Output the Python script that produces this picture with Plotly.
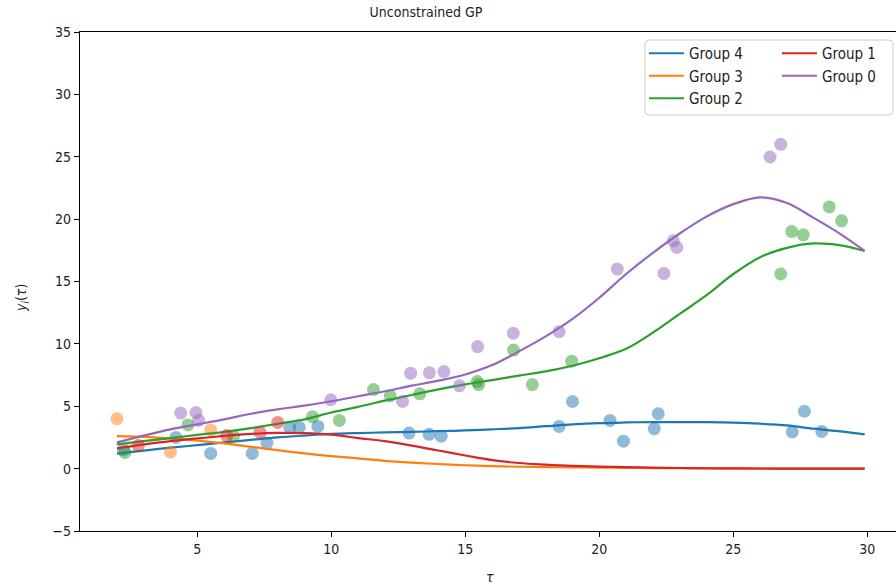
import plotly.graph_objects as go

# ---- fitted GP mean curves (tau grid and per-group means) ----
tau_grid = [2, 3, 4, 5, 6, 7, 8, 9, 10, 11, 12, 13, 14, 15, 16, 17, 18, 19,
            20, 21, 22, 23, 24, 25, 26, 27, 28, 29, 29.9]

mean_g4 = [1.2, 1.45, 1.68, 1.88, 2.1, 2.3, 2.5, 2.65, 2.78, 2.85, 2.9, 2.95, 3.0, 3.06,
           3.15, 3.25, 3.4, 3.55, 3.65, 3.7, 3.73, 3.73, 3.72, 3.68, 3.6, 3.46, 3.2, 2.98, 2.75]
mean_g3 = [2.6, 2.55, 2.42, 2.25, 2.02, 1.75, 1.48, 1.22, 1.0, 0.82, 0.62, 0.48, 0.37, 0.27,
           0.2, 0.15, 0.12, 0.1, 0.08, 0.06, 0.04, 0.03, 0.02, 0.01, 0.0, 0.0, 0.0, 0.0, 0.0]
mean_g2 = [1.95, 2.2, 2.45, 2.7, 2.95, 3.25, 3.6, 3.95, 4.5, 4.95, 5.45, 5.9, 6.35, 6.75,
           7.1, 7.45, 7.8, 8.25, 8.85, 9.6, 10.9, 12.4, 13.9, 15.6, 16.95, 17.7, 18.05, 17.9, 17.45]
mean_g1 = [1.62, 1.95, 2.2, 2.42, 2.62, 2.78, 2.86, 2.84, 2.72, 2.45, 2.2, 1.85, 1.45, 1.05,
           0.68, 0.45, 0.32, 0.22, 0.16, 0.12, 0.08, 0.05, 0.03, 0.02, 0.01, 0.0, 0.0, 0.0, 0.0]
mean_g0 = [2.1, 2.65, 3.15, 3.55, 3.95, 4.4, 4.75, 5.05, 5.4, 5.8, 6.2, 6.65, 7.05, 7.55,
           8.3, 9.4, 10.6, 12.0, 13.7, 15.6, 17.3, 18.85, 20.2, 21.2, 21.75, 21.3, 20.1, 18.8, 17.45]

# ---- observations per group ----
obs_tau_g4 = [2.25, 4.2, 5.5, 7.05, 7.6, 8.45, 8.8, 9.5, 12.9, 13.65, 14.1, 18.5, 19.0,
              20.4, 20.9, 22.05, 22.2, 27.2, 27.65, 28.3]
obs_y_g4 = [1.5, 2.5, 1.22, 1.22, 2.05, 3.3, 3.3, 3.38, 2.85, 2.75, 2.6, 3.38, 5.38,
            3.86, 2.2, 3.2, 4.4, 2.95, 4.6, 2.98]

obs_tau_g3 = [2.0, 4.0, 5.5]
obs_y_g3 = [4.0, 1.33, 3.1]

obs_tau_g2 = [2.3, 4.65, 6.35, 9.3, 10.3, 11.57, 12.2, 13.3, 15.45, 15.5, 16.8, 17.5,
              18.97, 26.77, 27.18, 27.61, 28.58, 29.04]
obs_y_g2 = [1.3, 3.5, 2.6, 4.15, 3.86, 6.34, 5.84, 6.0, 6.98, 6.74, 9.5, 6.74,
            8.61, 15.6, 19.0, 18.74, 20.98, 19.86]

obs_tau_g1 = [2.8, 6.1, 7.34, 8.0]
obs_y_g1 = [1.85, 2.65, 2.9, 3.7]

obs_tau_g0 = [4.38, 4.95, 5.05, 9.98, 12.66, 12.96, 13.66, 14.2, 14.78, 15.46, 16.79,
              18.5, 20.67, 22.41, 22.76, 22.89, 26.37, 26.77]
obs_y_g0 = [4.45, 4.5, 3.86, 5.52, 5.38, 7.65, 7.68, 7.78, 6.64, 9.78, 10.85,
            10.98, 16.0, 15.65, 18.26, 17.73, 24.98, 26.0]

group_names = ["Group 4", "Group 3", "Group 2", "Group 1", "Group 0"]
group_colors = ["#1f77b4", "#ff7f0e", "#2ca02c", "#d62728", "#9467bd"]
group_means = [mean_g4, mean_g3, mean_g2, mean_g1, mean_g0]
group_obs = [(obs_tau_g4, obs_y_g4), (obs_tau_g3, obs_y_g3), (obs_tau_g2, obs_y_g2),
             (obs_tau_g1, obs_y_g1), (obs_tau_g0, obs_y_g0)]
# legend: first column Group 4/3/2, second column Group 1/0
group_legend = ["legend", "legend", "legend", "legend2", "legend2"]

x_ticks = [5, 10, 15, 20, 25, 30]
y_ticks = [-5, 0, 5, 10, 15, 20, 25, 30, 35]

FONT = "DejaVu Sans Condensed, DejaVu Sans, sans-serif"

W, H = 896, 588
L, R, T, B = 80, 0, 32, 57
pw, ph = W - L - R, H - T - B


def px_x(p):
    return (p - L) / pw


def px_y(p):
    return (H - B - p) / ph


fig = go.Figure()

for name, color, mean, (ot, oy), lg in zip(group_names, group_colors, group_means,
                                           group_obs, group_legend):
    fig.add_trace(go.Scatter(
        x=ot, y=oy, mode="markers", showlegend=False, hoverinfo="skip",
        marker=dict(size=13, color=color, opacity=0.5, line=dict(width=0)),
    ))
    fig.add_trace(go.Scatter(
        x=tau_grid, y=mean, mode="lines", name=name, legend=lg,
        line=dict(color=color, width=2.2, shape="spline", smoothing=1.0),
    ))

# rounded legend frame
x0, x1 = px_x(645), px_x(893)
y0, y1 = px_y(115), px_y(40)
rx, ry = 4 / pw, 4 / ph
frame = (f"M{x0+rx},{y1} L{x1-rx},{y1} Q{x1},{y1} {x1},{y1-ry} "
         f"L{x1},{y0+ry} Q{x1},{y0} {x1-rx},{y0} L{x0+rx},{y0} "
         f"Q{x0},{y0} {x0},{y0+ry} L{x0},{y1-ry} Q{x0},{y1} {x0+rx},{y1} Z")
fig.add_shape(type="path", path=frame, xref="paper", yref="paper", layer="above",
              fillcolor="rgba(255,255,255,0.8)", line=dict(color="#cccccc", width=1))

axis_common = dict(
    showgrid=False, zeroline=False, showline=True, linecolor="black", linewidth=1.3,
    ticks="outside", ticklen=5, tickwidth=1.3, tickcolor="black",
    tickfont=dict(family=FONT, size=14, color="#222222"),
)

legend_common = dict(
    xanchor="left", y=px_y(37), yanchor="top",
    bgcolor="rgba(0,0,0,0)", borderwidth=0, itemwidth=35,
    font=dict(family=FONT, size=15, color="#222222"), tracegroupgap=0,
)

fig.update_layout(
    width=W, height=H,
    margin=dict(l=L, r=R, t=T, b=B),
    paper_bgcolor="white", plot_bgcolor="white",
    font=dict(family=FONT, color="#222222"),
    title=dict(text="Unconstrained GP", xref="container", x=426 / W, xanchor="center",
               yref="container", y=1 - 12 / H, yanchor="middle",
               font=dict(family=FONT, size=14, color="#222222")),
    xaxis=dict(range=[0.623, 31.07], tickvals=x_ticks, mirror=True, **axis_common),
    yaxis=dict(range=[-5, 35], tickvals=y_ticks, **axis_common),
    legend=dict(x=px_x(644), **legend_common),
    legend2=dict(x=px_x(777), **legend_common),
    annotations=[
        dict(text="<i>y<sub>i</sub></i>(<i>τ</i>)", xref="paper", yref="paper",
             x=px_x(22), y=px_y(298), textangle=-90, showarrow=False,
             xanchor="center", yanchor="middle",
             font=dict(family=FONT, size=14, color="#222222")),
        dict(text="<i>τ</i>", xref="paper", yref="paper",
             x=px_x(490), y=px_y(577), showarrow=False,
             xanchor="center", yanchor="middle",
             font=dict(family=FONT, size=14, color="#222222")),
    ],
)

fig.write_html("out.html")
